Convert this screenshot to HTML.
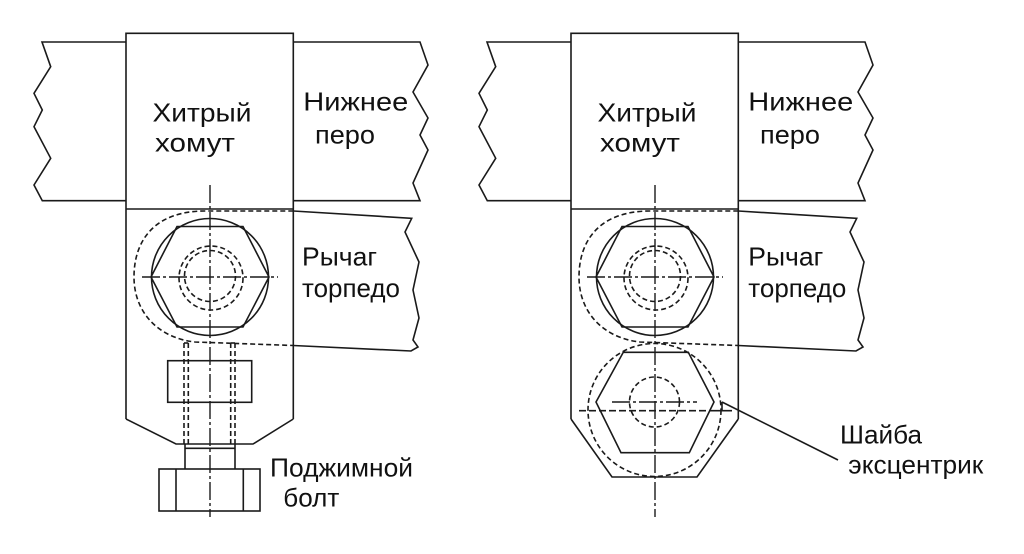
<!DOCTYPE html>
<html>
<head>
<meta charset="utf-8">
<style>
  html,body{margin:0;padding:0;background:#fff;}
  svg{display:block;}
  text{font-family:"Liberation Sans","DejaVu Sans",sans-serif;font-size:26px;fill:#111;}
</style>
</head>
<body>
<svg width="1024" height="554" viewBox="0 0 1024 554" xmlns="http://www.w3.org/2000/svg">
<defs>
  <g id="common" fill="none" stroke="#1a1a1a" stroke-width="1.6" stroke-linejoin="miter">
    <polyline points="126,42 42,42 50.7,66.7 34,93.3 42.3,110 34,126.7 50.7,158.3 34,185 42.3,200.7 126,200.7"/>
    <polyline points="293.3,42 420,42 428,65 413,92 428,118 420,135 428,150 413,183 420,200.7 293.3,200.7"/>
    <polyline points="126,419 126,33.3 293.3,33.3 293.3,419"/>
    <line x1="126" y1="209" x2="293.3" y2="209"/>
    <polyline points="293.3,211 411.7,218.3 405,232 419,262 413,290 419,318 413,340 418,347 411,351 293.3,345.5"/>
    <path d="M293.3,211 L205,211 C155,211 134,240 134,277 C134,312 158,338 195,342 L293.3,345.5" stroke-dasharray="5,3"/>
    <circle cx="210" cy="277" r="58.5"/>
    <polygon points="151,277 177,226.5 243,226.5 269,277 243,327 177,327"/>
    <circle cx="210" cy="276" r="25.5" stroke-dasharray="5,3"/>
    <circle cx="211" cy="278" r="32" stroke-dasharray="5,3"/>
    <line x1="142" y1="277" x2="278" y2="277" stroke-dasharray="18,3,3,3" stroke-width="1.4"/>
    <line x1="210" y1="185" x2="210" y2="517" stroke-dasharray="18,3,3,3" stroke-width="1.4"/>
  </g>
</defs>

<use href="#common"/>
<use href="#common" transform="translate(445,0)"/>

<!-- LEFT specific -->
<g fill="none" stroke="#1a1a1a" stroke-width="1.6">
  <polyline points="126,419 176,444 253,444 293.3,419"/>
  <rect x="167.7" y="360.7" width="84" height="41.6"/>
  <g stroke-dasharray="5,3">
    <line x1="184" y1="343" x2="184" y2="444"/>
    <line x1="188.3" y1="343" x2="188.3" y2="444"/>
    <line x1="230.7" y1="343" x2="230.7" y2="444"/>
    <line x1="235" y1="343" x2="235" y2="444"/>
  </g>
  <line x1="184" y1="343" x2="188.3" y2="343"/>
  <line x1="230.7" y1="343" x2="235" y2="343"/>
  <line x1="185" y1="444" x2="185" y2="469"/>
  <line x1="235" y1="444" x2="235" y2="469"/>
  <line x1="185" y1="448.3" x2="235" y2="448.3"/>
  <rect x="159" y="469" width="101" height="42"/>
  <line x1="176" y1="469" x2="176" y2="511"/>
  <line x1="243.3" y1="469" x2="243.3" y2="511"/>
</g>

<!-- RIGHT specific -->
<g fill="none" stroke="#1a1a1a" stroke-width="1.6">
  <polyline points="571,419 612,477 697,477 738.3,419"/>
  <polygon points="623.3,352.3 688.3,352.3 714,402 689.3,452.7 621,452.7 596,402"/>
  <circle cx="654.5" cy="410" r="66.5" stroke-dasharray="5,3"/>
  <circle cx="654.5" cy="402" r="25" stroke-dasharray="5,3"/>
  <line x1="612" y1="402" x2="697" y2="402" stroke-dasharray="18,3,3,3" stroke-width="1.4"/>
  <line x1="579" y1="410.7" x2="710" y2="410.7" stroke-dasharray="7,3"/>
  <line x1="710" y1="410.7" x2="732" y2="410.7"/>
  <line x1="722" y1="402" x2="722" y2="411"/>
  <line x1="722" y1="402" x2="838" y2="460"/>
</g>

<!-- TEXT -->
<text x="152.5" y="121.7" textLength="99" lengthAdjust="spacingAndGlyphs">Хитрый</text>
<text x="155" y="151.7" textLength="80" lengthAdjust="spacingAndGlyphs">хомут</text>
<text x="303.3" y="110.7" textLength="105" lengthAdjust="spacingAndGlyphs">Нижнее</text>
<text x="315" y="143.3" textLength="60" lengthAdjust="spacingAndGlyphs">перо</text>
<text x="302" y="265.5" textLength="75" lengthAdjust="spacingAndGlyphs">Рычаг</text>
<text x="302" y="297" textLength="98" lengthAdjust="spacingAndGlyphs">торпедо</text>
<text x="270" y="476.7" textLength="143" lengthAdjust="spacingAndGlyphs">Поджимной</text>
<text x="283.3" y="506.7" textLength="56" lengthAdjust="spacingAndGlyphs">болт</text>

<text x="597.5" y="121.7" textLength="99" lengthAdjust="spacingAndGlyphs">Хитрый</text>
<text x="600" y="151.7" textLength="80" lengthAdjust="spacingAndGlyphs">хомут</text>
<text x="748.3" y="110.7" textLength="105" lengthAdjust="spacingAndGlyphs">Нижнее</text>
<text x="760" y="143.3" textLength="60" lengthAdjust="spacingAndGlyphs">перо</text>
<text x="748.3" y="265.5" textLength="75" lengthAdjust="spacingAndGlyphs">Рычаг</text>
<text x="748.3" y="297" textLength="98" lengthAdjust="spacingAndGlyphs">торпедо</text>
<text x="840" y="443.3" textLength="82" lengthAdjust="spacingAndGlyphs">Шайба</text>
<text x="848.3" y="473.3" textLength="135" lengthAdjust="spacingAndGlyphs">эксцентрик</text>
</svg>
</body>
</html>
